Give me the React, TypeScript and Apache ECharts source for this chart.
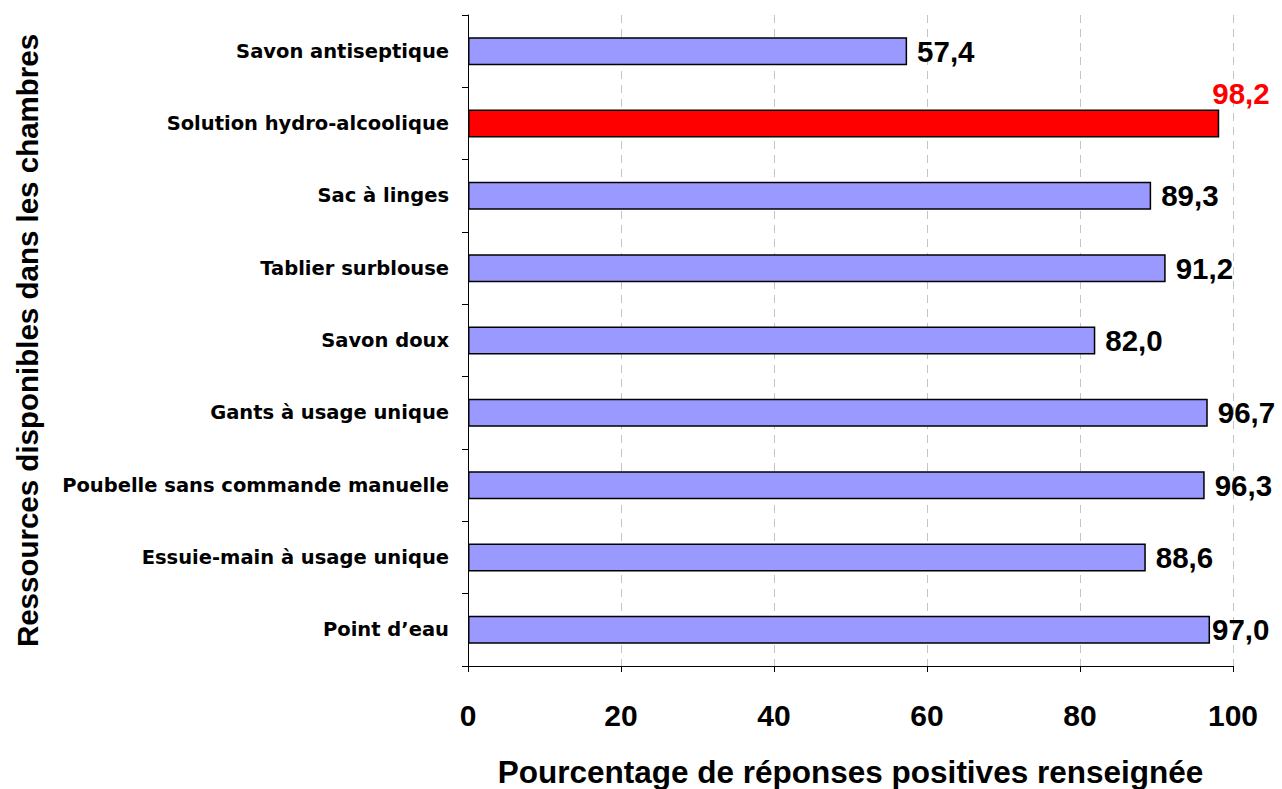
import React, { useEffect, useRef } from "react";
import * as echarts from "echarts";

// Resources available in rooms (top to bottom) and share of positive answers (%)
const categories = [
  "Savon antiseptique",
  "Solution hydro-alcoolique",
  "Sac à linges",
  "Tablier surblouse",
  "Savon doux",
  "Gants à usage unique",
  "Poubelle sans commande manuelle",
  "Essuie-main à usage unique",
  "Point d’eau",
];
const values = [57.4, 98.2, 89.3, 91.2, 82.0, 96.7, 96.3, 88.6, 97.0];
const highlighted = "Solution hydro-alcoolique";
const xTicks = [0, 20, 40, 60, 80, 100];

const fmt = (v: number) => v.toFixed(1).replace(".", ",");

export default function App() {
  const ref = useRef<HTMLDivElement>(null);

  useEffect(() => {
    if (!ref.current) return;
    const chart = echarts.init(ref.current, null, { renderer: "svg" });
    const font = "'Liberation Sans', Arial, Helvetica, sans-serif";

    const data = categories.map((c, i) => {
      const v = values[i];
      const item: any = {
        value: v,
        itemStyle: {
          color: c === highlighted ? "#ff0000" : "#9999ff",
        },
      };
      if (c === highlighted) {
        item.label = {
          position: ["100%", 0],
          align: "left",
          verticalAlign: "bottom",
          offset: [-7, -1],
          color: "#ff0000",
        };
      } else if (c === "Point d’eau") {
        item.label = { distance: 2 };
      }
      return item;
    });

    chart.setOption({
      animation: false,
      backgroundColor: "#ffffff",
      grid: {
        left: 468,
        right: 49,
        top: 15,
        bottom: 123,
        containLabel: false,
        outerBoundsMode: "none",
      },
      xAxis: {
        type: "value",
        min: xTicks[0],
        max: xTicks[xTicks.length - 1],
        interval: 20,
        name: "Pourcentage de réponses positives renseignée",
        nameLocation: "middle",
        nameGap: 90,
        nameTextStyle: {
          fontFamily: font,
          fontWeight: "bold",
          fontSize: 31.5,
          color: "#000",
        },
        axisLine: { show: true, lineStyle: { color: "#000", width: 1 } },
        axisTick: { show: true, length: 6, lineStyle: { color: "#000" } },
        axisLabel: {
          fontFamily: font,
          fontWeight: "bold",
          fontSize: 30,
          color: "#000",
          margin: 34,
        },
        splitLine: {
          show: true,
          lineStyle: { color: "#c4c4c4", type: [8, 6], width: 1 },
        },
      },
      yAxis: {
        type: "category",
        data: categories,
        inverse: true,
        name: "Ressources disponibles dans les chambres",
        nameLocation: "middle",
        nameGap: 426,
        nameTextStyle: {
          fontFamily: font,
          fontWeight: "bold",
          fontSize: 29.5,
          color: "#000",
        },
        axisLine: { show: true, lineStyle: { color: "#000", width: 1 } },
        axisTick: { show: true, length: 6, lineStyle: { color: "#000" } },
        axisLabel: {
          fontFamily: "'DejaVu Sans', Verdana, sans-serif",
          fontWeight: "bold",
          fontSize: 19.5,
          color: "#000",
          margin: 19,
        },
        splitLine: { show: false },
      },
      series: [
        {
          type: "bar",
          data,
          barWidth: 28,
          itemStyle: { borderColor: "#000", borderWidth: 1.5 },
          label: {
            show: true,
            position: "right",
            distance: 10,
            fontFamily: font,
            fontWeight: "bold",
            fontSize: 29.5,
            color: "#000",
            formatter: (p: any) => fmt(p.value),
          },
        },
      ],
    });

    return () => chart.dispose();
  }, []);

  return (
    <div
      ref={ref}
      style={{ position: "fixed", left: 0, top: 0, width: 1282, height: 789 }}
    />
  );
}
